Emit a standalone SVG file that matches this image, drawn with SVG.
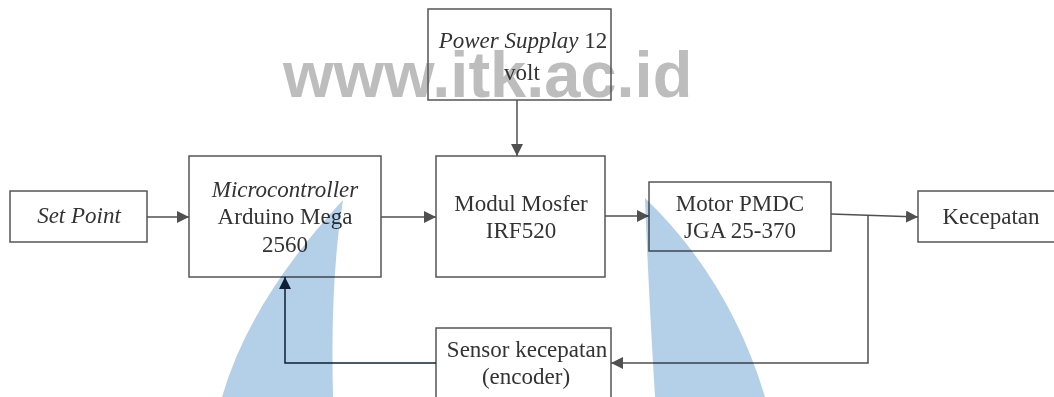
<svg xmlns="http://www.w3.org/2000/svg" width="1054" height="397" viewBox="0 0 1054 397">
<style>
.box{fill:none;stroke:#555;stroke-width:1.5}
.t{font-family:"Liberation Serif","Times New Roman",serif;font-size:23px;fill:#333;text-anchor:middle}
.i{font-style:italic}
.c{fill:none;stroke:#505050;stroke-width:1.5}
.fb{fill:none;stroke:#12263a;stroke-width:1.5}
.wm{font-family:"Liberation Sans",Arial,sans-serif;font-weight:bold;font-size:65px;fill:#bdbdbd}
</style>
<defs>
<marker id="ah" markerWidth="12" markerHeight="12" refX="12" refY="6" orient="auto" markerUnits="userSpaceOnUse">
<path d="M0,0 L12,6 L0,12 Z" fill="#505050"/>
</marker>
<marker id="ahd" markerWidth="12" markerHeight="12" refX="12" refY="6" orient="auto" markerUnits="userSpaceOnUse">
<path d="M0,0 L12,6 L0,12 Z" fill="#12263a"/>
</marker>
</defs>
<rect width="1054" height="397" fill="#fff"/>
<text class="wm" x="283" y="97">www.itk.ac.id</text>
<g id="power">
<rect class="box" x="428" y="9" width="183" height="91"/>
<text class="t" x="523" y="48"><tspan class="i">Power Supplay</tspan> 12</text>
<text class="t" x="522" y="80">volt</text>
</g>
<g id="setpoint">
<rect class="box" x="10" y="191" width="137" height="51"/>
<text class="t i" x="79" y="223">Set Point</text>
</g>
<g id="micro">
<rect class="box" x="189" y="156" width="192" height="121"/>
<text class="t i" x="285" y="197">Microcontroller</text>
<text class="t" x="285" y="224">Arduino Mega</text>
<text class="t" x="285" y="252">2560</text>
</g>
<g id="mosfet">
<rect class="box" x="436" y="156" width="169" height="121"/>
<text class="t" x="521" y="211">Modul Mosfer</text>
<text class="t" x="521" y="238">IRF520</text>
</g>
<g id="motor">
<rect class="box" x="649" y="182" width="182" height="69"/>
<text class="t" x="740" y="211">Motor PMDC</text>
<text class="t" x="740" y="238">JGA 25-370</text>
</g>
<g id="kecepatan">
<rect class="box" x="918" y="191" width="140" height="51"/>
<text class="t" x="991" y="224">Kecepatan</text>
</g>
<g id="sensor">
<rect class="box" x="436" y="328" width="175" height="80"/>
<text class="t" x="527" y="357">Sensor kecepatan</text>
<text class="t" x="526" y="384">(encoder)</text>
</g>
<g id="connectors">
<path class="c" d="M517,100 V156" marker-end="url(#ah)"/>
<path class="c" d="M147,217 H189" marker-end="url(#ah)"/>
<path class="c" d="M381,217 H436" marker-end="url(#ah)"/>
<path class="c" d="M605,216 H649" marker-end="url(#ah)"/>
<path class="c" d="M831,214 L918,217" marker-end="url(#ah)"/>
<path class="c" d="M868,215 V363 H611" marker-end="url(#ah)"/>
<path class="fb" d="M436,363 H285 V277" marker-end="url(#ahd)"/>
</g>
<g style="mix-blend-mode:multiply" fill="#b3d0e8">
<path d="M343,200 Q250,300 222,397 L333,397 Q330,280 343,200 Z"/>
<path d="M645,198 Q730,280 765,397 L655,397 Q648,280 645,198 Z"/>
</g>
</svg>
